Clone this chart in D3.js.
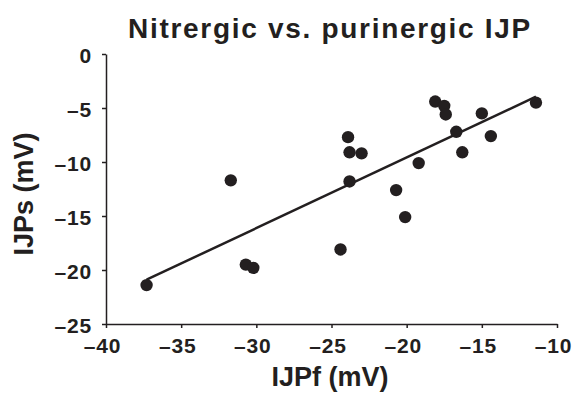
<!DOCTYPE html>
<html>
<head>
<meta charset="utf-8">
<script src="https://cdn.jsdelivr.net/npm/d3@7"></script>
<style>
  body { margin: 0; background: #fff; }
  svg text { font-family: "Liberation Sans", Arial, sans-serif; font-weight: bold; fill: #231f20; }
</style>
</head>
<body>
<svg id="chart" width="576" height="393"></svg>
<script>
// IJPf vs IJPs scatter
const ijpf = [-37.3, -31.7, -30.7, -30.2, -24.4, -23.9, -23.8, -23.0, -23.8, -20.7,
              -20.1, -19.2, -18.1, -17.5, -17.4, -16.7, -16.3, -15.0, -14.4, -11.4];
const ijps = [-21.4, -11.7, -19.5, -19.8, -18.1, -7.7, -9.1, -9.2, -11.8, -12.6,
              -15.1, -10.1, -4.4, -4.8, -5.6, -7.2, -9.1, -5.5, -7.6, -4.5];

// regression line ends
const fitX = [-37.3, -11.4];
const fitY = [-20.9, -3.95];

const xTicks = [-40, -35, -30, -25, -20, -15, -10];
const yTicks = [0, -5, -10, -15, -20, -25];

const ink = "#231f20";
const svg = d3.select("#chart");

const x = d3.scaleLinear().domain([-40, -10]).range([106, 557]);
const y = d3.scaleLinear().domain([-25, 0]).range([324, 54]);

const fmt = d => d < 0 ? "\u2013" + Math.abs(d) : String(d);

// Title
svg.append("text")
    .attr("x", 330).attr("y", 38)
    .attr("text-anchor", "middle")
    .attr("font-size", "28px")
    .style("letter-spacing", "1.7px")
    .text("Nitrergic vs. purinergic IJP");

// Axes
const xAxis = svg.append("g")
    .attr("transform", `translate(0,${y(-25)})`)
    .call(d3.axisBottom(x).tickValues(xTicks).tickFormat(fmt).tickSizeInner(4).tickSizeOuter(0).tickPadding(10));
const yAxis = svg.append("g")
    .attr("transform", `translate(${x(-40)},0)`)
    .call(d3.axisLeft(y).tickValues(yTicks).tickFormat(fmt).tickSizeInner(4).tickSizeOuter(0).tickPadding(10));

[xAxis, yAxis].forEach(a => {
    a.select(".domain").attr("stroke", ink).attr("stroke-width", 1.5);
    a.selectAll(".tick line").attr("stroke", ink).attr("stroke-width", 1.5);
    a.selectAll("text").attr("font-size", "21px").attr("fill", ink)
        .attr("font-family", "Liberation Sans, Arial, sans-serif").attr("font-weight", "bold")
        .style("letter-spacing", "0.8px");
});
yAxis.selectAll("text").attr("dy", "0.42em");
xAxis.selectAll("text").attr("dx", "-4px");

// Axis titles
svg.append("text")
    .attr("x", 330).attr("y", 386)
    .attr("text-anchor", "middle")
    .attr("font-size", "27px")
    .text("IJPf (mV)");
svg.append("text")
    .attr("transform", "translate(33,194) rotate(-90)")
    .attr("text-anchor", "middle")
    .attr("font-size", "27px")
    .text("IJPs (mV)");

// Fit line
svg.append("line")
    .attr("x1", x(fitX[0])).attr("y1", y(fitY[0]))
    .attr("x2", x(fitX[1])).attr("y2", y(fitY[1]))
    .attr("stroke", ink)
    .attr("stroke-width", 2.5);

// Points
svg.append("g")
    .selectAll("circle")
    .data(ijpf.map((v, i) => [v, ijps[i]]))
    .join("circle")
    .attr("cx", d => x(d[0]))
    .attr("cy", d => y(d[1]))
    .attr("r", 6.2)
    .attr("fill", ink);
</script>
</body>
</html>
